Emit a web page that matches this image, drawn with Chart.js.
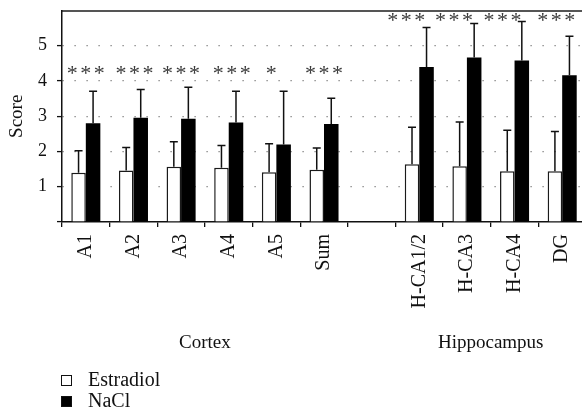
<!DOCTYPE html>
<html>
<head>
<meta charset="utf-8">
<script src="https://cdn.jsdelivr.net/npm/chart.js@4"></script>
<style>
  html, body { margin: 0; padding: 0; background: #fff; overflow: hidden; }
  #wrap { width: 582px; height: 416px; overflow: hidden; }
  canvas { display: block; }
</style>
</head>
<body>
<div id="wrap"><canvas id="c" width="586" height="416" style="width:586px;height:416px"></canvas></div>
<script>
const categories = ['A1', 'A2', 'A3', 'A4', 'A5', 'Sum', '', 'H-CA1/2', 'H-CA3', 'H-CA4', 'DG'];
const estradiol    = [1.40, 1.46, 1.57, 1.54, 1.41, 1.48, null, 1.64, 1.58, 1.44, 1.44];
const estradiolErr = [0.62, 0.65, 0.71, 0.63, 0.81, 0.62, null, 1.05, 1.26, 1.16, 1.13];
const nacl         = [2.80, 2.96, 2.93, 2.82, 2.20, 2.78, null, 4.40, 4.67, 4.58, 4.16];
const naclErr      = [0.91, 0.80, 0.89, 0.89, 1.51, 0.73, null, 1.12, 0.96, 1.11, 1.11];
const significance = ['***', '***', '***', '***', '*', '***', '', '***', '***', '***', '***'];
const sigLevel     = [4.31, 4.31, 4.31, 4.31, 4.31, 4.31, null, 5.81, 5.81, 5.81, 5.81];
const yTickLabels  = [1, 2, 3, 4, 5];
const regionLabels = ['Cortex', 'Hippocampus'];
const regionSpans  = [[0, 5], [7, 10]];

const FONT = '"Liberation Serif", "Times New Roman", serif';
const INK = '#111';

const errorBars = {
  id: 'errorBars',
  afterDatasetsDraw(chart) {
    const ctx = chart.ctx;
    const y = chart.scales.y;
    ctx.save();
    ctx.strokeStyle = INK;
    ctx.lineWidth = 1.5;
    chart.data.datasets.forEach((ds, d) => {
      const meta = chart.getDatasetMeta(d);
      meta.data.forEach((bar, i) => {
        const v = ds.data[i], e = ds.errors[i];
        if (v == null || e == null) return;
        const y0 = y.getPixelForValue(v);
        const y1 = y.getPixelForValue(v + e);
        ctx.beginPath();
        ctx.moveTo(bar.x, y0);
        ctx.lineTo(bar.x, y1);
        ctx.moveTo(bar.x - 4, y1);
        ctx.lineTo(bar.x + 4, y1);
        ctx.stroke();
      });
    });
    ctx.restore();
  }
};

const annotations = {
  id: 'annotations',
  afterDraw(chart, args, opts) {
    const ctx = chart.ctx;
    const xs = chart.scales.x, ys = chart.scales.y;
    ctx.save();
    // significance stars
    ctx.font = '22px ' + FONT;
    ctx.fillStyle = '#3a3a3a';
    ctx.textAlign = 'center';
    ctx.textBaseline = 'alphabetic';
    const m = ctx.measureText('*');
    const mid = (m.actualBoundingBoxAscent - m.actualBoundingBoxDescent) / 2;
    significance.forEach((s, i) => {
      if (!s || sigLevel[i] == null) return;
      const cx = xs.getPixelForValue(i) + opts.starShift[i];
      const cy = ys.getPixelForValue(sigLevel[i]);
      const n = s.length;
      for (let k = 0; k < n; k++) {
        ctx.fillText('*', cx + (k - (n - 1) / 2) * 13.5, cy + mid);
      }
    });
    // region labels
    ctx.font = '19px ' + FONT;
    ctx.fillStyle = INK;
    regionLabels.forEach((lab, r) => {
      const [a, b] = regionSpans[r];
      const cx = (xs.getPixelForValue(a) + xs.getPixelForValue(b)) / 2;
      ctx.fillText(lab, cx, 348);
    });
    // legend
    ctx.textAlign = 'left';
    ctx.font = '20px ' + FONT;
    chart.data.datasets.forEach((ds, d) => {
      const top = 375 + d * 21;
      ctx.fillStyle = ds.backgroundColor;
      ctx.fillRect(61, top, 11, 11);
      ctx.strokeStyle = INK;
      ctx.lineWidth = 1;
      ctx.strokeRect(61.5, top + 0.5, 10, 10);
      ctx.fillStyle = INK;
      ctx.fillText(ds.label, 88, top + 11);
    });
    ctx.restore();
  }
};

function noPad(s) {
  s.paddingTop = 0; s.paddingBottom = 0; s.paddingLeft = 0; s.paddingRight = 0;
}

new Chart(document.getElementById('c'), {
  type: 'bar',
  data: {
    labels: categories,
    datasets: [
      { label: 'Estradiol', data: estradiol, errors: estradiolErr, xAxisID: 'x', yAxisID: 'y',
        backgroundColor: '#ffffff', borderColor: '#1a1a1a', borderWidth: 1.5 },
      { label: 'NaCl', data: nacl, errors: naclErr, xAxisID: 'x', yAxisID: 'y',
        backgroundColor: '#000000', borderColor: '#000000', borderWidth: 0 }
    ]
  },
  options: {
    responsive: false,
    animation: false,
    devicePixelRatio: 1,
    categoryPercentage: 0.61,
    barPercentage: 1,
    layout: { padding: 0, autoPadding: false },
    plugins: {
      legend: { display: false },
      tooltip: { enabled: false },
      annotations: { starShift: [0, 1, 0, 3, -5, 0, 0, -13, -13, -12, -6] }
    },
    scales: {
      x: {
        type: 'category',
        position: 'bottom',
        offset: true,
        grid: { offset: true, drawOnChartArea: false, drawTicks: true, tickLength: 5, color: INK, lineWidth: 1.3 },
        border: { color: INK, width: 1.5 },
        ticks: { autoSkip: false, maxRotation: 90, minRotation: 90, padding: 7, color: INK,
                 font: { family: FONT, size: 20 } },
        afterFit: s => { s.height = 194; noPad(s); }
      },
      xTop: {
        type: 'category',
        position: 'top',
        grid: { display: false },
        ticks: { display: false },
        border: { color: '#555', width: 2 },
        afterFit: s => { s.height = 10.5; noPad(s); }
      },
      y: {
        min: 0, max: 6,
        ticks: { stepSize: 1, padding: 10, color: INK,
                 callback: v => yTickLabels.includes(v) ? String(v) : '',
                 font: { family: FONT, size: 18, lineHeight: 1 } },
        grid: {
          color: c => (c.tick && yTickLabels.includes(c.tick.value)) ? '#777' : 'rgba(0,0,0,0)',
          lineWidth: 1.2,
          tickColor: c => (c.tick && c.tick.value < 6) ? INK : 'rgba(0,0,0,0)',
          tickLength: 5, tickWidth: 1.3, tickBorderDash: []
        },
        border: { color: INK, width: 1.5, dash: [1.2, 10.8] },
        title: { display: true, text: 'Score', color: INK, font: { family: FONT, size: 19 }, padding: { top: 6, bottom: 0 } },
        afterFit: s => { s.width = 62; noPad(s); }
      }
    }
  },
  plugins: [errorBars, annotations]
});
</script>
</body>
</html>
